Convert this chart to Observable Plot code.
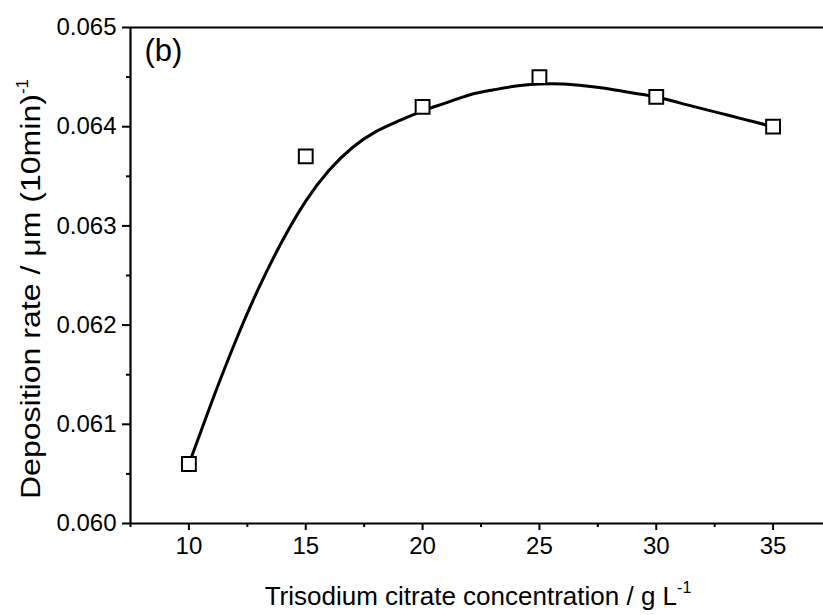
<!DOCTYPE html>
<html>
<head>
<meta charset="utf-8">
<script src="https://cdn.jsdelivr.net/npm/d3@7"></script>
<script src="https://cdn.jsdelivr.net/npm/@observablehq/plot@0.6"></script>
<style>
  html, body { margin: 0; padding: 0; background: white; overflow: hidden; }
</style>
</head>
<body>
<div id="chart"></div>
<script>
// Measured points
const concentration = [10, 15, 20, 25, 30, 35];
const rate = [0.0606, 0.0637, 0.0642, 0.0645, 0.0643, 0.0640];

// Fitted curve at whole-number concentrations
const fitX = [10, 11, 12, 13, 14, 15, 16, 17, 18, 19, 20, 21, 22, 23, 24, 25, 26, 27, 28, 29, 30, 31, 32, 33, 34, 35];
const fitY = [0.06060, 0.06124, 0.06184, 0.06238, 0.06285, 0.06325, 0.06356, 0.06379, 0.06395, 0.06406,
              0.06416, 0.06424, 0.06432, 0.06437, 0.06441, 0.06443, 0.06443, 0.06441, 0.06438, 0.06434,
              0.06430, 0.06424, 0.06418, 0.06412, 0.06406, 0.06400];

// Ticks
const xTicks = [10, 15, 20, 25, 30, 35];
const xMinor = [7.5, 12.5, 17.5, 22.5, 27.5, 32.5, 37.5];
const yTicks = [0.060, 0.061, 0.062, 0.063, 0.064, 0.065];
const yMinor = [0.0605, 0.0615, 0.0625, 0.0635, 0.0645];

const points = concentration.map((c, i) => ({x: c, y: rate[i]}));
const fit = fitX.map((c, i) => ({x: c, y: fitY[i]}));

const font = "'Liberation Sans', Arial, Helvetica, sans-serif";

const svg = Plot.plot({
  width: 823,
  height: 615,
  marginLeft: 130,
  marginRight: 0,
  marginTop: 27,
  marginBottom: 92,
  style: {fontFamily: font, fontSize: "24px", background: "white", color: "black"},
  x: {domain: [7.5, 37.5], range: [130, 831]},
  y: {domain: [0.060, 0.065]},
  marks: [
    Plot.ruleY([0.060, 0.065], {stroke: "black", strokeWidth: 2.2}),
    Plot.ruleX([7.5], {stroke: "black", strokeWidth: 2.2}),
    Plot.axisX({ticks: xTicks, tickSize: 7, tickPadding: 6, tickFormat: d => String(d), label: null, strokeWidth: 2, fontSize: 24}),
    Plot.axisX({ticks: xMinor, tickSize: 4, tickFormat: () => "", label: null, strokeWidth: 2}),
    Plot.axisY({ticks: yTicks, tickSize: 8, tickPadding: 6, tickFormat: d => d.toFixed(3), label: null, strokeWidth: 2, fontSize: 24}),
    Plot.axisY({ticks: yMinor, tickSize: 4, tickFormat: () => "", label: null, strokeWidth: 2}),
    Plot.line(fit, {x: "x", y: "y", curve: "natural", stroke: "black", strokeWidth: 3}),
    Plot.dot(points, {x: "x", y: "y", symbol: "square", r: 7.8, fill: "white", stroke: "black", strokeWidth: 2}),
    Plot.text(["(b)"], {frameAnchor: "top-left", text: d => d, dx: 14, dy: 11, fontSize: 31, textAnchor: "start", lineAnchor: "top", fill: "black"})
  ]
});

const s = d3.select(svg);
// enforce tick label size
s.selectAll('g[aria-label$="tick label"]').attr("font-size", 24).style("font-size", "24px");
s.selectAll('g[aria-label$="tick label"] text').style("font-size", "24px");

// x axis label
const xl = s.append("text")
  .attr("x", 478).attr("y", 605)
  .attr("text-anchor", "middle")
  .attr("font-family", font).attr("font-size", 26).attr("fill", "black");
xl.append("tspan").text("Trisodium citrate concentration / g L");
xl.append("tspan").attr("dy", -12).attr("font-size", 16).text("-1");

// y axis label
const yl = s.append("text")
  .attr("transform", "translate(40,289) rotate(-90)")
  .attr("text-anchor", "middle")
  .attr("font-family", font).attr("font-size", 27).attr("fill", "black");
yl.append("tspan").attr("textLength", 405).attr("lengthAdjust", "spacingAndGlyphs").text("Deposition rate / μm (10min)");
yl.append("tspan").attr("dy", -12).attr("font-size", 17).text("-1");

document.getElementById("chart").appendChild(svg);
</script>
</body>
</html>
